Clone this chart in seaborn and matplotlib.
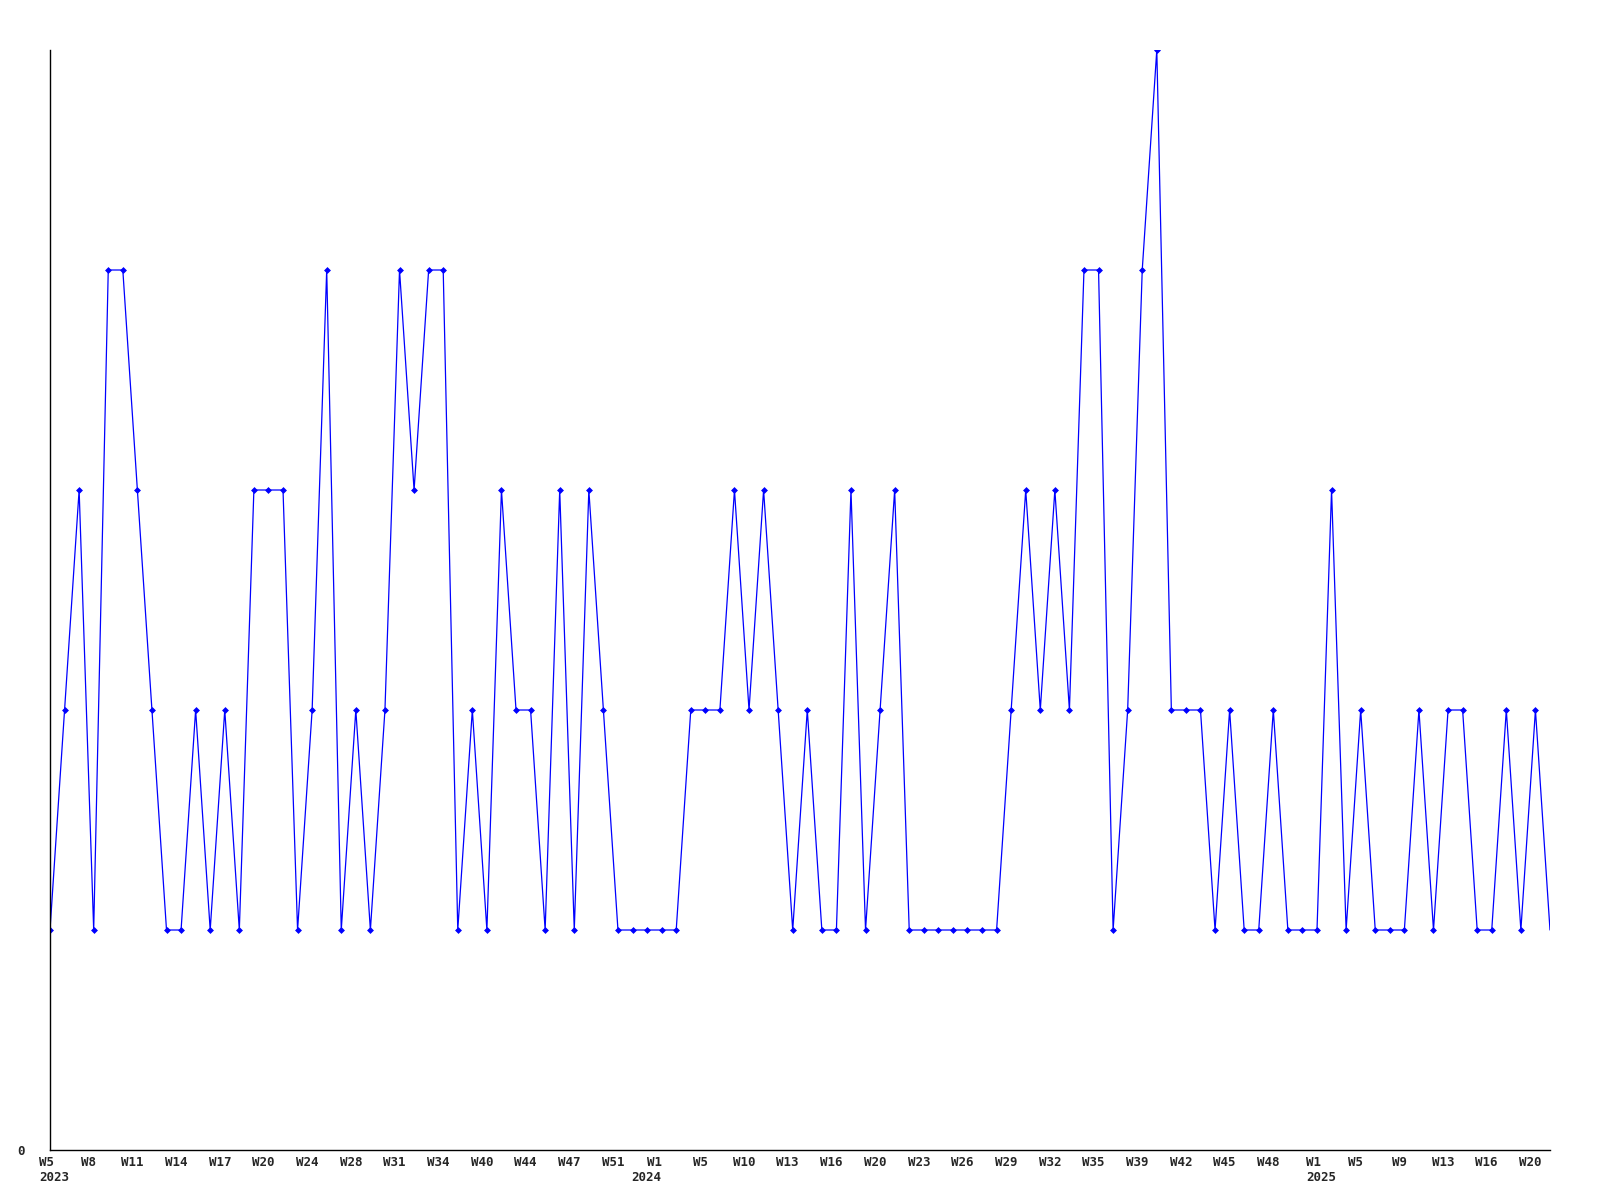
import numpy as np
import pandas as pd
import matplotlib
matplotlib.use('Agg')
import matplotlib.pyplot as plt
import matplotlib.transforms as mtransforms
import seaborn as sns

# weekly counts, one per data point
values = [1, 2, 3, 1, 4, 4, 3, 2, 1, 1,
          2, 1, 2, 1, 3, 3, 3, 1, 2, 4,
          1, 2, 1, 2, 4, 3, 4, 4, 1, 2,
          1, 3, 2, 2, 1, 3, 1, 3, 2, 1,
          1, 1, 1, 1, 2, 2, 2, 3, 2, 3,
          2, 1, 2, 1, 1, 3, 1, 2, 3, 1,
          1, 1, 1, 1, 1, 1, 2, 3, 2, 3,
          2, 4, 4, 1, 2, 4, 5, 2, 2, 2,
          1, 2, 1, 1, 2, 1, 1, 1, 3, 1,
          2, 1, 1, 1, 2, 1, 2, 2, 1, 1,
          2, 1, 2, 1]

# labels shown on every third point
tick_labels = ['W5\n2023', 'W8', 'W11', 'W14', 'W17', 'W20', 'W24', 'W28', 'W31', 'W34',
               'W40', 'W44', 'W47', 'W51', 'W1\n2024', 'W5', 'W10', 'W13', 'W16', 'W20',
               'W23', 'W26', 'W29', 'W32', 'W35', 'W39', 'W42', 'W45', 'W48', 'W1\n2025',
               'W5', 'W9', 'W13', 'W16', 'W20']
tick_step = 3

df = pd.DataFrame({'idx': np.arange(len(values)), 'count': values})

sns.set_style('white')
plt.rcParams['font.family'] = ['DejaVu Sans Mono']

fig = plt.figure(figsize=(16, 12), dpi=100)
ax = fig.add_axes([50 / 1600, 50 / 1200, 1500 / 1600, 1100 / 1200])

sns.lineplot(data=df, x='idx', y='count', ax=ax, color='#0000ff', linewidth=0.9,
             marker='D', markersize=3, markeredgewidth=0.5, markeredgecolor='#0000ff',
             markevery=list(range(len(values) - 1)))

ax.set_xlim(0, len(values) - 1)
ax.set_ylim(0, 5)
ax.set_xlabel('')
ax.set_ylabel('')

ax.set_xticks(np.arange(0, len(values), tick_step)[:len(tick_labels)])
ax.set_xticklabels(tick_labels, fontsize=9, fontweight='bold', linespacing=1.2)
ax.set_yticks([0])
ax.set_yticklabels(['0'], fontsize=9, fontweight='bold')
ax.tick_params(axis='x', length=0, pad=4)
ax.tick_params(axis='y', length=0, pad=18)

def shift(px):
    return mtransforms.ScaledTranslation(px / 100, 0, fig.dpi_scale_trans)

for lbl in ax.get_xticklabels():
    txt = lbl.get_text()
    if txt.endswith('2024'):
        lbl.set_ha('right')
        lbl.set_multialignment('right')
        lbl.set_transform(lbl.get_transform() + shift(0))
    elif '\n' in txt:
        lbl.set_ha('left')
        lbl.set_multialignment('left')
        lbl.set_transform(lbl.get_transform() + shift(-11))
    else:
        lbl.set_transform(lbl.get_transform() + shift(-5))

for side in ['top', 'right']:
    ax.spines[side].set_visible(False)
for side in ['left', 'bottom']:
    ax.spines[side].set_color('black')
    ax.spines[side].set_linewidth(1)
ax.grid(False)

fig.savefig('out.png', dpi=100, facecolor='white')
